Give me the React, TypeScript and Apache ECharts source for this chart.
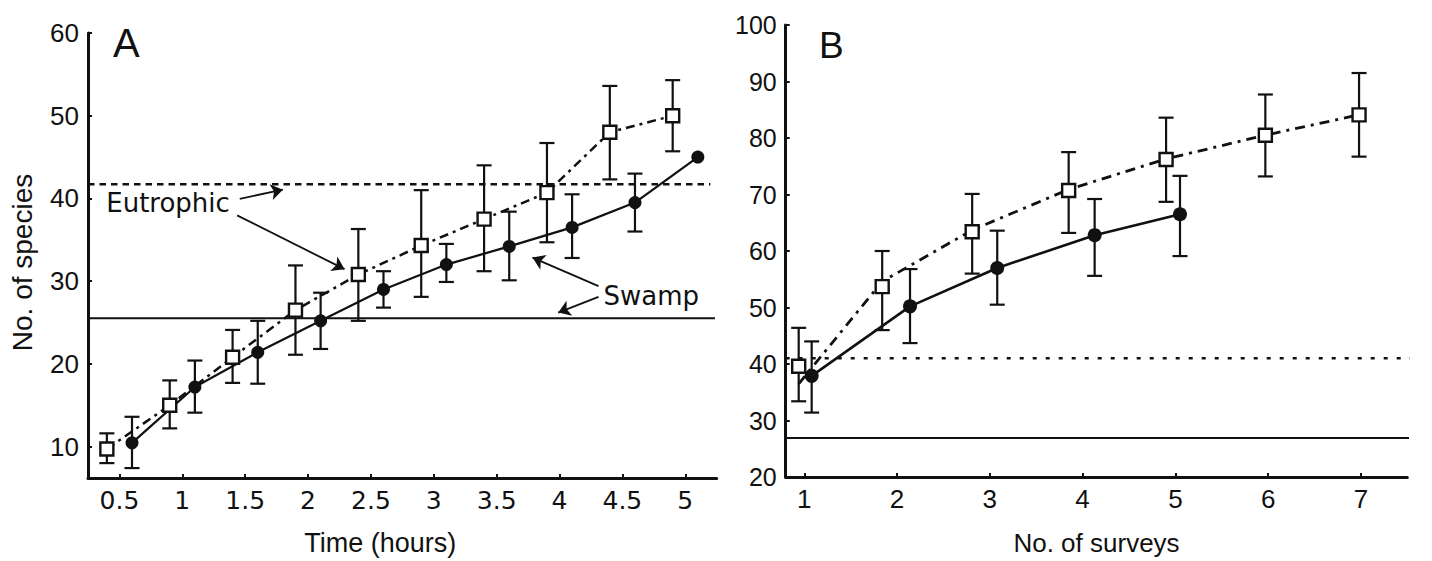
import React, { useEffect, useRef } from "react";
import * as echarts from "echarts";

// ---------- Panel A : Time (hours) ----------
const aTickX = [0.5, 1, 1.5, 2, 2.5, 3, 3.5, 4, 4.5, 5];
const aTickY = [10, 20, 30, 40, 50, 60];
const aEutroX = [0.4, 0.9, 1.4, 1.9, 2.4, 2.9, 3.4, 3.9, 4.4, 4.9];
const aEutroY = [9.7, 15.0, 20.8, 26.5, 30.8, 34.3, 37.5, 40.7, 48.0, 50.0];
const aEutroLow = [8.0, 12.2, 17.7, 21.1, 25.2, 28.1, 31.2, 34.7, 42.3, 45.7];
const aEutroHigh = [11.6, 18.0, 24.1, 31.9, 36.3, 41.0, 44.0, 46.7, 53.6, 54.3];
const aSwampX = [0.6, 1.1, 1.6, 2.1, 2.6, 3.1, 3.6, 4.1, 4.6, 5.1];
const aSwampY = [10.45, 17.2, 21.4, 25.2, 29.0, 32.0, 34.2, 36.5, 39.5, 45.0];
const aSwampLow = [7.4, 14.1, 17.6, 21.8, 26.8, 29.9, 30.1, 32.8, 36.0, null];
const aSwampHigh = [13.6, 20.4, 25.2, 28.6, 31.2, 34.5, 38.4, 40.5, 43.0, null];
const aEutroRef = 41.7;
const aSwampRef = 25.5;

// ---------- Panel B : No. of surveys ----------
const bTickX = [1, 2, 3, 4, 5, 6, 7];
const bEutroX = [0.94, 1.84, 2.81, 3.85, 4.9, 5.97, 6.98];
const bEutroY = [39.6, 53.7, 63.4, 70.7, 76.2, 80.5, 84.1];
const bEutroLow = [33.4, 46.0, 56.0, 63.2, 68.7, 73.2, 76.7];
const bEutroHigh = [46.4, 60.0, 70.1, 77.5, 83.6, 87.7, 91.5];
const bEutroCurveY = [36.5, 54.6, 63.7, 70.9, 76.3, 80.5, 84.1];
const bSwampX = [1.08, 2.14, 3.08, 4.13, 5.05];
const bSwampY = [37.9, 50.2, 57.0, 62.8, 66.5];
const bSwampLow = [31.4, 43.7, 50.5, 55.6, 59.1];
const bSwampHigh = [44.0, 56.8, 63.6, 69.2, 73.3];
const bEutroRef = 41.0;
const bSwampRef = 26.9;

// annotations (data space of panel A): [x1, y1, x2, y2]
const eutroArrows = [
  [1.457, 39.96, 1.8, 41.05],
  [1.436, 37.95, 2.29, 31.45],
];
const swampArrows = [
  [4.31, 29.4, 3.785, 32.85],
  [4.31, 28.1, 3.99, 26.2],
];
const labelsA: [number, number, string][] = [
  [0.395, 39.46, "Eutrophic"],
  [4.35, 28.2, "Swamp"],
];

const INK = "#111";

function errorBars(xs: number[], lows: (number | null)[], highs: (number | null)[], gi: number, cap: number) {
  const data: number[][] = [];
  xs.forEach((x, i) => {
    if (lows[i] != null && highs[i] != null) data.push([x, lows[i] as number, highs[i] as number]);
  });
  return {
    type: "custom",
    xAxisIndex: gi,
    yAxisIndex: gi,
    silent: true,
    z: 2,
    data,
    renderItem: (_p: any, api: any) => {
      const x = api.value(0);
      const lo = api.coord([x, api.value(1)]);
      const hi = api.coord([x, api.value(2)]);
      const style = { stroke: INK, lineWidth: 2.2, fill: "none" };
      return {
        type: "group",
        children: [
          { type: "line", shape: { x1: lo[0], y1: lo[1], x2: hi[0], y2: hi[1] }, style },
          { type: "line", shape: { x1: lo[0] - cap, y1: lo[1], x2: lo[0] + cap, y2: lo[1] }, style },
          { type: "line", shape: { x1: hi[0] - cap, y1: hi[1], x2: hi[0] + cap, y2: hi[1] }, style },
        ],
      };
    },
  };
}

const zip = (xs: number[], ys: number[]) => xs.map((x, i) => [x, ys[i]]);

export default function App() {
  const ref = useRef<HTMLDivElement>(null);
  useEffect(() => {
    if (!ref.current) return;
    const chart = echarts.init(ref.current, null, { renderer: "svg" });

    const axisLine = { show: true, onZero: false, lineStyle: { color: INK, width: 3 } };
    const tickStyle = { color: INK, width: 2 };

    const option: any = {
      animation: false,
      backgroundColor: "#fff",
      grid: [
        { left: 88, top: 33, width: 628.7, height: 447 },
        { left: 785.7, top: 25, width: 621.6, height: 456 },
      ],
      xAxis: [
        {
          gridIndex: 0,
          type: "value",
          min: 0.25,
          max: 5.25,
          axisLine,
          axisTick: { show: true, inside: true, length: 4, lineStyle: tickStyle, customValues: aTickX },
          axisLabel: { customValues: aTickX, margin: 10, fontSize: 25, fontFamily: "DejaVu Sans", color: INK },
          splitLine: { show: false },
          name: "Time (hours)",
          nameLocation: "middle",
          nameGap: 51,
          nameTextStyle: { fontSize: 27, fontFamily: "Liberation Sans", color: INK, padding: [0, 44, 0, 0] },
        },
        {
          gridIndex: 1,
          type: "value",
          min: 0.8,
          max: 7.5,
          axisLine,
          axisTick: { show: true, inside: true, length: 4, lineStyle: tickStyle, customValues: bTickX },
          axisLabel: { customValues: bTickX, margin: 9, fontSize: 26, fontFamily: "Liberation Sans", color: INK },
          splitLine: { show: false },
          name: "No. of surveys",
          nameLocation: "middle",
          nameGap: 53,
          nameTextStyle: { fontSize: 26, fontFamily: "Liberation Sans", color: INK },
        },
      ],
      yAxis: [
        {
          gridIndex: 0,
          type: "value",
          min: 6.2,
          max: 60,
          axisLine,
          axisTick: { show: true, inside: true, length: 4, lineStyle: tickStyle, customValues: aTickY },
          axisLabel: { customValues: aTickY, margin: 9, fontSize: 26, fontFamily: "Liberation Sans", color: INK },
          splitLine: { show: false },
          name: "No. of species",
          nameLocation: "middle",
          nameGap: 52,
          nameTextStyle: { fontSize: 28, fontFamily: "Liberation Sans", color: INK, padding: [0, 14, 0, 0] },
        },
        {
          gridIndex: 1,
          type: "value",
          min: 20,
          max: 100,
          interval: 10,
          axisLine,
          axisTick: { show: true, inside: true, length: 4, lineStyle: tickStyle },
          axisLabel: { margin: 9, fontSize: 25, fontFamily: "Liberation Sans", color: INK },
          splitLine: { show: false },
        },
      ],
      series: [
        // reference lines panel A
        {
          type: "line", xAxisIndex: 0, yAxisIndex: 0, symbol: "none", silent: true, clip: false, z: 1,
          data: [[0.25, aEutroRef], [5.2, aEutroRef]],
          lineStyle: { color: INK, width: 2.5, type: [6.5, 5] },
        },
        {
          type: "line", xAxisIndex: 0, yAxisIndex: 0, symbol: "none", silent: true, clip: false, z: 1,
          data: [[0.25, aSwampRef], [5.236, aSwampRef]],
          lineStyle: { color: INK, width: 2 },
        },
        // reference lines panel B
        {
          type: "line", xAxisIndex: 1, yAxisIndex: 1, symbol: "none", silent: true, clip: false, z: 1,
          data: [[0.8, bEutroRef], [7.64, bEutroRef]],
          lineStyle: { color: INK, width: 2.5, type: [4, 9] },
        },
        {
          type: "line", xAxisIndex: 1, yAxisIndex: 1, symbol: "none", silent: true, clip: false, z: 1,
          data: [[0.8, bSwampRef], [7.62, bSwampRef]],
          lineStyle: { color: INK, width: 2 },
        },
        errorBars(aEutroX, aEutroLow, aEutroHigh, 0, 7.5),
        errorBars(aSwampX, aSwampLow, aSwampHigh, 0, 7.5),
        errorBars(bEutroX, bEutroLow, bEutroHigh, 1, 7.5),
        errorBars(bSwampX, bSwampLow, bSwampHigh, 1, 7.5),
        // panel A curves
        {
          type: "line", xAxisIndex: 0, yAxisIndex: 0, z: 3, silent: true,
          data: zip(aEutroX, aEutroY),
          symbol: "rect", symbolSize: 13,
          itemStyle: { color: "#fff", borderColor: INK, borderWidth: 2.4 },
          lineStyle: { color: INK, width: 2.5, type: [9, 5, 3, 5] },
        },
        {
          type: "line", xAxisIndex: 0, yAxisIndex: 0, z: 3, silent: true,
          data: zip(aSwampX, aSwampY),
          symbol: "circle", symbolSize: 13,
          itemStyle: { color: INK },
          lineStyle: { color: INK, width: 2.2 },
        },
        // panel B curves
        {
          type: "line", xAxisIndex: 1, yAxisIndex: 1, z: 3, silent: true,
          data: zip(bEutroX, bEutroCurveY),
          symbol: "none",
          lineStyle: { color: INK, width: 2.8, type: [10, 6, 3, 6] },
        },
        {
          type: "scatter", xAxisIndex: 1, yAxisIndex: 1, z: 4, silent: true,
          data: zip(bEutroX, bEutroY),
          symbol: "rect", symbolSize: 13,
          itemStyle: { color: "#fff", borderColor: INK, borderWidth: 2.4, opacity: 1 },
        },
        {
          type: "line", xAxisIndex: 1, yAxisIndex: 1, z: 3, silent: true,
          data: zip(bSwampX, bSwampY),
          symbol: "circle", symbolSize: 14,
          itemStyle: { color: INK },
          lineStyle: { color: INK, width: 2.6 },
        },
        // annotation arrows
        {
          type: "lines", coordinateSystem: "cartesian2d", xAxisIndex: 0, yAxisIndex: 0, z: 5, silent: true,
          symbol: ["none", "arrow"], symbolSize: 12,
          lineStyle: { color: INK, width: 1.8, opacity: 1 },
          data: [...eutroArrows, ...swampArrows].map((a) => ({ coords: [[a[0], a[1]], [a[2], a[3]]] })),
        },
      ],
    };
    chart.setOption(option);

    // texts placed via the axes' own scales
    const texts = labelsA.map((l) => {
      const p = chart.convertToPixel({ gridIndex: 0 }, [l[0], l[1]]) as number[];
      return {
        type: "text",
        x: p[0],
        y: p[1],
        silent: true,
        z: 10,
        style: {
          text: l[2],
          font: '26px "DejaVu Sans"',
          fill: INK,
          align: "left",
          verticalAlign: "middle",
        },
      };
    });
    chart.setOption({
      graphic: [
        { type: "text", left: 113, top: 23, silent: true, style: { text: "A", font: '40px "Liberation Sans"', fill: INK } },
        { type: "text", left: 819, top: 27, silent: true, style: { text: "B", font: '37px "Liberation Sans"', fill: INK } },
        ...texts,
      ],
    });
    return () => chart.dispose();
  }, []);
  return (
    <div
      ref={ref}
      style={{ position: "fixed", left: 0, top: 0, width: 1432, height: 561, background: "#fff" }}
    />
  );
}
